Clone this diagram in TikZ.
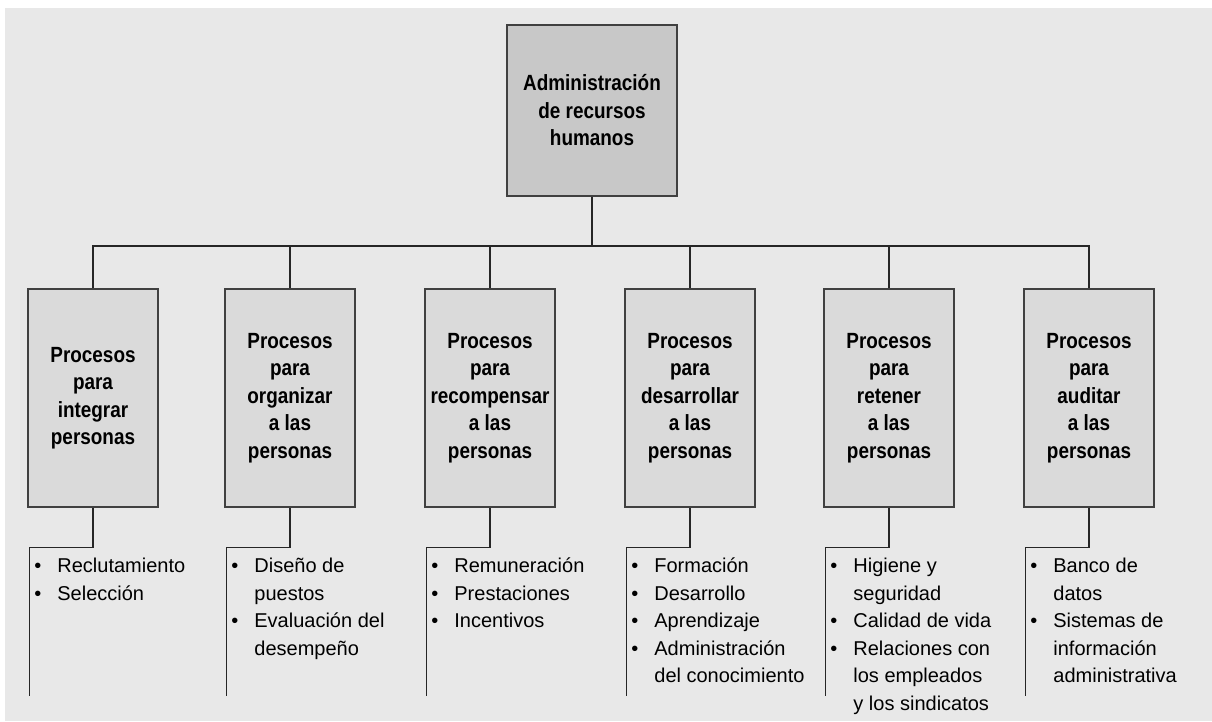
\documentclass[tikz,border=0pt]{standalone}
\usepackage{fontspec}
\setmainfont{Liberation Sans}
\newfontfamily\headfont[FakeStretch=0.86]{Liberation Sans}
\usetikzlibrary{positioning, calc}
\definecolor{pagebg}{RGB}{232,232,232}
\definecolor{rootfill}{RGB}{200,200,200}
\definecolor{procfill}{RGB}{218,218,218}
\definecolor{boxline}{RGB}{64,64,64}
\newcommand{\blt}{\makebox[23pt][l]{\textbullet}}
\newcommand{\cont}{\hspace*{23pt}}
\tikzset{
    rootbox/.style={
        rectangle,
        draw=boxline,
        line width=1.6pt,
        fill=rootfill,
        minimum width=170pt,
        minimum height=171pt,
        align=center,
        font=\headfont\bfseries\fontsize{22}{27.5}\selectfont
    },
    procbox/.style={
        rectangle,
        draw=boxline,
        line width=1.6pt,
        fill=procfill,
        minimum width=130pt,
        minimum height=218pt,
        align=center,
        font=\headfont\bfseries\fontsize{22}{27.5}\selectfont
    },
    itemlist/.style={anchor=north west, align=left, inner sep=0pt, font=\fontsize{20}{27.5}\selectfont},
    conn/.style={line width=1.3pt, color=black!85}
}

\begin{document}
\begin{tikzpicture}[x=1pt, y=-1pt]
      \useasboundingbox (0,0) rectangle (1212,721);
      \fill[white] (0,0) rectangle (1212,721);
      \fill[pagebg] (5,8) rectangle (1212,721);

      \node[rootbox] (arh) at (592,110.5) {Administración\\de recursos\\humanos};

      \node[procbox] (p1) at (93,398) {Procesos\\para\\integrar\\personas};
      \node[procbox] (p2) at (290,398) {Procesos\\para\\organizar\\a las\\personas};
      \node[procbox] (p3) at (490,398) {Procesos\\para\\recompensar\\a las\\personas};
      \node[procbox] (p4) at (690,398) {Procesos\\para\\desarrollar\\a las\\personas};
      \node[procbox] (p5) at (889,398) {Procesos\\para\\retener\\a las\\personas};
      \node[procbox] (p6) at (1089,398) {Procesos\\para\\auditar\\a las\\personas};

      % bus from the root box to the six process boxes
      \coordinate (bus) at (592,246);
      \draw[conn] (arh.south) -- (bus);
      \draw[conn] (p1.north) |- (bus) -| (p6.north);
      \foreach \i in {2,...,5}
        \draw[conn] (p\i.north) -- (p\i.north |- bus);

      % stems down to the lists
      \foreach \i in {1,...,6} {
        \coordinate (s\i) at ($(p\i.south west)+(2,40)$);
        \coordinate (e\i) at ($(s\i)+(0,148)$);
        \draw[conn] (p\i.south) |- (s\i) -- (e\i);
      }

      \node[itemlist] (l1) at ($(s1)+(5,10)$) {\blt Reclutamiento\\\blt Selección};
      \node[itemlist] (l2) at ($(s2)+(5,10)$) {\blt Diseño de\\\cont puestos\\\blt Evaluación del\\\cont desempeño};
      \node[itemlist] (l3) at ($(s3)+(5,10)$) {\blt Remuneración\\\blt Prestaciones\\\blt Incentivos};
      \node[itemlist] (l4) at ($(s4)+(5,10)$) {\blt Formación\\\blt Desarrollo\\\blt Aprendizaje\\\blt Administración\\\cont del conocimiento};
      \node[itemlist] (l5) at ($(s5)+(5,10)$) {\blt Higiene y\\\cont seguridad\\\blt Calidad de vida\\\blt Relaciones con\\\cont los empleados\\\cont y los sindicatos};
      \node[itemlist] (l6) at ($(s6)+(5,10)$) {\blt Banco de\\\cont datos\\\blt Sistemas de\\\cont información\\\cont administrativa};
\end{tikzpicture}
\end{document}
